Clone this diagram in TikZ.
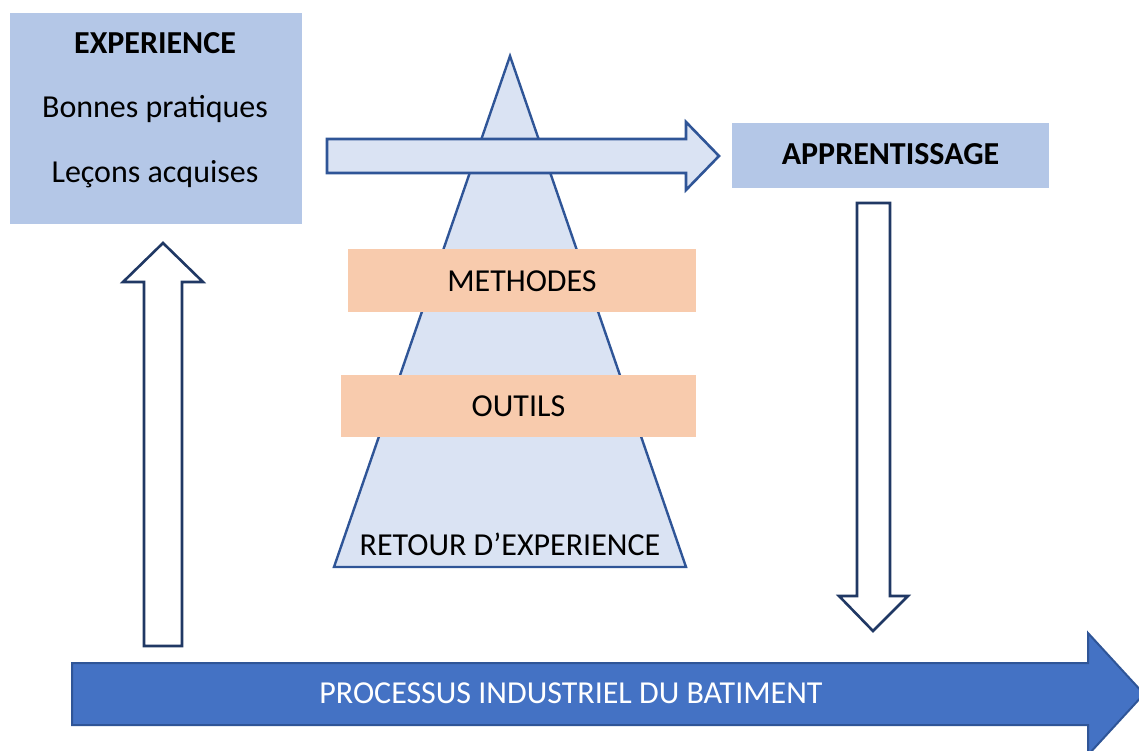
\documentclass[tikz,border=0pt]{standalone}
\usepackage{fontspec}
\setmainfont{Carlito}
\definecolor{boxblue}{HTML}{B4C7E7}
\definecolor{lightblue}{HTML}{DAE3F3}
\definecolor{edgeblue}{HTML}{2F5597}
\definecolor{navy}{HTML}{203864}
\definecolor{peach}{HTML}{F8CBAD}
\definecolor{procblue}{HTML}{4472C4}
\tikzset{
  bluebox/.style={fill=boxblue, draw=none, inner sep=0pt},
  peachbox/.style={fill=peach, draw=none, inner sep=0pt},
  lbl/.style={anchor=base, inner sep=0pt, text=black},
  hollowarrow/.style={fill=white, draw=navy, line width=2.6pt, line join=miter},
  lightarrow/.style={fill=lightblue, draw=edgeblue, line width=2.6pt, line join=miter},
  triangleshape/.style={fill=lightblue, draw=edgeblue, line width=2.4pt, line join=miter},
}
\begin{document}
\begin{tikzpicture}[x=1pt,y=-1pt, font=\fontsize{32}{38}\selectfont]
\useasboundingbox (0,0) rectangle (1139,751);
\clip (0,0) rectangle (1139,751);
% EXPERIENCE box
\node (exp) [bluebox, minimum width=292pt, minimum height=211pt] at (156,118.5) {};
\node (t1) [lbl] at (155,54) {\bfseries EXPERIENCE};
\node (t2) [lbl] at (155,118) {Bonnes pratiques};
\node (t3) [lbl] at (155,183) {Leçons acquises};
% triangle
\coordinate (apex) at (510,56);
\coordinate (bl) at (334,567);
\coordinate (br) at (686,567);
\draw[triangleshape] (apex) -- (br) -- (bl) -- cycle;
% horizontal arrow
\draw[lightarrow] (327,139) -- (686,139) -- (686,122) -- (719,156) -- (686,190) -- (686,173) -- (327,173) -- cycle;
% APPRENTISSAGE
\node (app) [bluebox, minimum width=317pt, minimum height=65pt] at (890.5,155.5) {};
\node (t4) [lbl] at (890.5,165) {\bfseries APPRENTISSAGE};
% METHODES / OUTILS
\node (meth) [peachbox, minimum width=348pt, minimum height=63pt] at (522,280.5) {};
\node (t5) [lbl] at (522,291) {METHODES};
\node (out) [peachbox, minimum width=355pt, minimum height=62pt] at (518.5,406) {};
\node (t6) [lbl] at (518.5,416) {OUTILS};
\node (t7) [lbl] at (510,555) {RETOUR D’EXPERIENCE};
% up arrow
\draw[hollowarrow] (144,646) -- (182,646) -- (182,282) -- (203,282) -- (163,243) -- (123,282) -- (144,282) -- cycle;
% down arrow
\draw[hollowarrow] (857,203) -- (890,203) -- (890,596) -- (908,596) -- (873,631) -- (839,596) -- (857,596) -- cycle;
% bottom process arrow
\draw[fill=procblue, draw=edgeblue, line width=2pt, line join=miter] (72,663) -- (1088,663) -- (1088,633) -- (1144,694) -- (1088,755) -- (1088,725) -- (72,725) -- cycle;
\node (t8) [lbl, text=white] at (571,703) {PROCESSUS INDUSTRIEL DU BATIMENT};
\end{tikzpicture}
\end{document}
